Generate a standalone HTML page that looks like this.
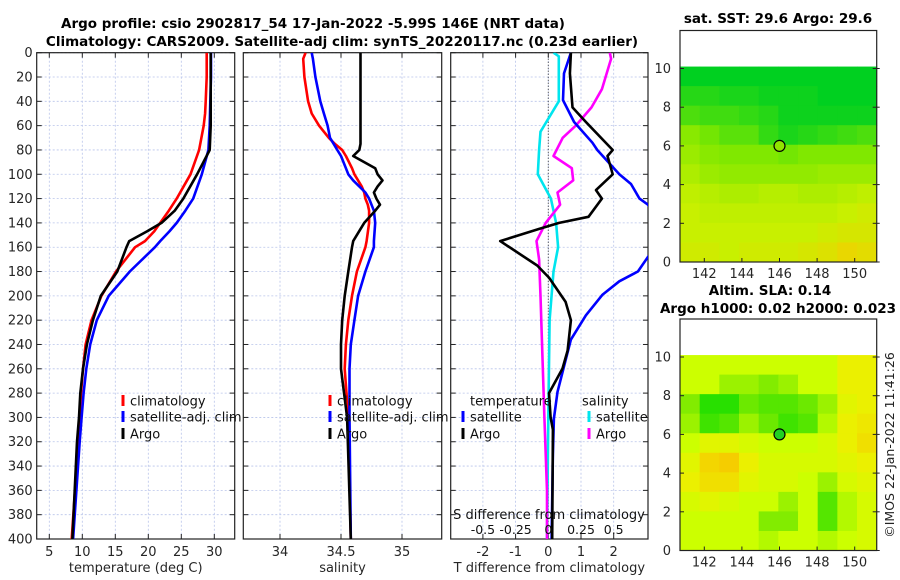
<!DOCTYPE html>
<html><head><meta charset="utf-8">
<style>
html,body{margin:0;padding:0;background:#fff;}
svg{display:block;font-family:"DejaVu Sans","Liberation Sans",sans-serif;}
</style></head>
<body>
<svg id="fig" width="900" height="580" viewBox="0 0 900 580" xmlns="http://www.w3.org/2000/svg">
<defs>
<clipPath id="c1"><rect x="36.7" y="52.7" width="198" height="486.3"/></clipPath>
<clipPath id="c2"><rect x="243.3" y="52.7" width="198.4" height="486.3"/></clipPath>
<clipPath id="c3"><rect x="450.7" y="52.7" width="197.3" height="486.3"/></clipPath>
</defs>
<g id="titles">
<text x="313" y="28" text-anchor="middle" font-size="13.5" font-weight="bold">Argo profile: csio 2902817_54 17-Jan-2022 -5.99S 146E (NRT data)</text>
<text x="342" y="46" text-anchor="middle" font-size="13.5" font-weight="bold">Climatology: CARS2009. Satellite-adj clim: synTS_20220117.nc (0.23d earlier)</text>
<text x="778" y="23" text-anchor="middle" font-size="13.5" font-weight="bold">sat. SST: 29.6 Argo: 29.6</text>
<text x="770" y="295" text-anchor="middle" font-size="13.5" font-weight="bold">Altim. SLA: 0.14</text>
<text x="778" y="313" text-anchor="middle" font-size="13.5" font-weight="bold">Argo h1000: 0.02 h2000: 0.023</text>
<text transform="translate(894,445) rotate(-90)" text-anchor="middle" font-size="12.5" fill="#222">©IMOS 22-Jan-2022 11:41:26</text>
</g>
<g id="plots"></g>
</svg>
<script>
const tempDepths = [0,20,40,50,60,80,100,120,130,140,147,155,160,180,200,220,240,260,280,300,320,400];
const tempClim   = [28.85,28.85,28.7,28.6,28.4,27.7,26.4,24.3,23.1,21.8,20.9,19.5,18.0,15.1,12.9,11.4,10.5,10.1,9.8,9.6,9.4,8.4];
const tempSat    = [29.5,29.5,29.4,29.35,29.3,29.1,28.1,26.8,25.6,24.3,23.2,21.8,21.0,17.2,14.0,12.2,11.2,10.6,10.2,9.9,9.6,8.6];
const tempArgo   = [29.45,29.45,29.45,29.45,29.45,29.3,27.4,25.3,24.0,22.0,19.8,17.1,16.7,15.3,12.8,11.6,10.7,10.1,9.7,9.5,9.2,8.5];

const salDepths = [0,5,20,40,50,60,70,75,80,85,95,100,105,110,115,120,125,130,140,155,160,180,200,220,240,260,300,400];
const salClim   = [34.21,34.19,34.2,34.23,34.26,34.32,34.40,34.45,34.51,34.54,34.59,34.61,34.64,34.67,34.69,34.70,34.72,34.73,34.73,34.71,34.70,34.63,34.59,34.56,34.54,34.53,34.56,34.58];
const salSat    = [34.26,34.27,34.29,34.33,34.36,34.39,34.41,34.44,34.47,34.50,34.54,34.56,34.60,34.65,34.70,34.73,34.75,34.77,34.78,34.77,34.77,34.70,34.64,34.61,34.58,34.57,34.57,34.58];
const salArgo   = [34.66,34.66,34.66,34.66,34.66,34.66,34.66,34.66,34.65,34.60,34.78,34.80,34.84,34.80,34.77,34.79,34.82,34.78,34.69,34.60,34.59,34.56,34.53,34.51,34.50,34.50,34.55,34.58];

const dTDepths = [0,17,39,57,74,80,100,108,120,125,140,150,160,168,180,188,199,216,236,258,279,301,330,400];
const dTSat    = [0.69,0.48,0.45,0.79,1.35,1.5,2.17,2.53,2.79,3.05,3.4,3.5,3.3,3.05,2.74,2.17,1.66,1.15,0.69,0.48,0.28,0.17,0.14,0.1];
const dTArgoDepths = [0,17,45,57,80,85,100,113,120,135,140,145,155,175,185,205,220,245,260,280,300,310,400];
const dTArgo   = [0.69,0.66,0.74,1.15,1.97,1.81,1.97,1.46,1.64,1.23,0.33,-0.29,-1.47,-0.34,0.02,0.53,0.69,0.59,0.43,0.02,0.07,0.14,0.12];
const dSDepths = [0,3,40,65,80,100,120,140,160,180,220,300,400];
const dSSat    = [0.04,0.08,0.08,-0.06,-0.07,-0.08,0.02,0.06,0.075,0.04,0.01,0.0,-0.01];
const dSArgoDepths = [0,5,30,45,60,70,85,95,105,115,125,140,155,170,200,300,360,400];
const dSArgo   = [0.47,0.48,0.41,0.33,0.21,0.11,0.04,0.18,0.19,0.07,0.09,-0.02,-0.09,-0.07,-0.06,-0.03,-0.01,-0.01];

const depthTicks = [0,20,40,60,80,100,120,140,160,180,200,220,240,260,280,300,320,340,360,380,400];
const tempTicks = [5,10,15,20,25,30];
const salTicks = [34,34.5,35];
const salTickLabels = ["34","34.5","35"];
const dTTicks = [-2,-1,0,1,2];
const dSTicks = [-0.5,-0.25,0,0.25,0.5];
const dSTickLabels = ["-0.5","-0.25","0","0.25","0.5"];

const mapLatTicks = [0,2,4,6,8,10];
const mapLonTicks = [142,144,146,148,150];
const sstGrid = [
 [0.0,0.0,0.0,0.0,0.0,0.0,0.0,0.0,0.0,0.0],
 [0.3,0.3,0.2,0.2,0.1,0.1,0.1,0.0,0.0,0.0],
 [0.6,0.5,0.5,0.4,0.3,0.1,0.1,0.1,0.1,0.1],
 [1.1,0.9,0.7,0.7,0.4,0.2,0.3,0.4,0.5,0.6],
 [1.3,1.1,1.0,1.0,1.0,0.9,1.0,1.0,1.0,1.0],
 [1.5,1.3,1.2,1.2,1.2,1.2,1.2,1.3,1.3,1.3],
 [1.7,1.6,1.5,1.5,1.6,1.6,1.5,1.5,1.6,1.7],
 [1.8,1.7,1.7,1.7,1.7,1.7,1.7,1.7,1.8,1.9],
 [1.8,1.8,1.8,1.8,1.8,1.8,1.8,1.9,2.0,2.0],
 [1.9,1.9,1.8,1.9,1.9,1.9,2.0,2.1,2.3,2.2]];
const slaGrid = [
 [1,1,1,1,1,1,1,1,1.3,1.3],
 [1,1,0.8,0.8,0.7,0.8,1,1,1.3,1.3],
 [0.7,0.3,0.3,0.6,0.5,0.5,0.6,0.8,1.2,1.3],
 [0.8,0.4,0.5,0.8,0.6,0.4,0.5,0.9,1.3,1.4],
 [1,1.2,1.2,1.1,1,1,1,1.1,1.3,1.5],
 [1.2,1.6,1.7,1.3,1.1,1.1,1.1,1.1,1.2,1.3],
 [1.3,1.5,1.5,1.2,1.1,1.1,1,0.8,1.1,1.2],
 [1.1,1.2,1.1,1,1,0.8,1,0.5,0.9,1.1],
 [1,1,1,1,0.7,0.7,1,0.5,0.9,1.1],
 [1,1,1,1,0.9,1,1,0.9,1,1.1]];
const argoPos = [146, 6];

const NS = "http://www.w3.org/2000/svg";
const root = document.getElementById('plots');
function mk(tag, attrs, parent){ const e=document.createElementNS(NS,tag); for(const k in attrs) e.setAttribute(k,attrs[k]); (parent||root).appendChild(e); return e; }

const Y0=52.7, Y1=539;
const yD = d => Y0 + d*(Y1-Y0)/400;
const xT = t => 49.3 + (t-5)*6.6;
const xS = s => 280 + (s-34)*122;
const xDT = v => 548.3 + v*32.7;
const xDS = v => xDT(v*4);

function panel(name, x0, x1, clip, xTicks, xLabels, xfun, yLabels, xlabel){
  const g = mk('g',{});
  
  
  depthTicks.forEach(d=>{
    const l=mk('line',{x1:x0,x2:x1,y1:yD(d),y2:yD(d),stroke:'#b8c4ea','stroke-width':0.8,'stroke-dasharray':'2,2'},g);
    
    
    const t1=mk('line',{x1:x0,x2:x0+5,y1:yD(d),y2:yD(d),stroke:'#222','stroke-width':1},g);
    
    
    const t2=mk('line',{x1:x1-5,x2:x1,y1:yD(d),y2:yD(d),stroke:'#222','stroke-width':1},g);
    
    
    if(yLabels){
      const tx=mk('text',{x:x0-4,y:yD(d)+4.5,'text-anchor':'end','font-size':13,fill:'#262626'},g);
      tx.textContent=d;
      
      
    }
  });
  xTicks.forEach((v,i)=>{
    const X=xfun(v);
    const l=mk('line',{x1:X,x2:X,y1:Y0,y2:Y1,stroke:'#b8c4ea','stroke-width':0.8,'stroke-dasharray':'2,2'},g);
    
    
    const t=mk('line',{x1:X,x2:X,y1:Y1-5,y2:Y1,stroke:'#222','stroke-width':1},g);
    
    
    const t2=mk('line',{x1:X,x2:X,y1:Y0,y2:Y0+5,stroke:'#222','stroke-width':1},g);
    
    
    const tx=mk('text',{x:X,y:556,'text-anchor':'middle','font-size':13,fill:'#262626'},g);
    tx.textContent=xLabels[i];
    
    
  });
  const lab=mk('text',{x:(x0+x1)/2,y:572,'text-anchor':'middle','font-size':13,fill:'#262626'},g);
  lab.textContent=xlabel;
  
  
  const box=mk('rect',{x:x0,y:Y0,width:x1-x0,height:Y1-Y0,fill:'none',stroke:'#222','stroke-width':1.2},g);
  
  
  return g;
}
function line(g, depths, vals, xf, color, clip, name){
  const pts = depths.map((d,i)=>xf(vals[i]).toFixed(1)+','+yD(d).toFixed(1)).join(' ');
  const p=mk('polyline',{points:pts,fill:'none',stroke:color,'stroke-width':2.6,'stroke-linejoin':'round','clip-path':'url(#'+clip+')'},g);
  
  
}
function legendEntry(g, x, y, color, label){
  const e=mk('g',{},g);
  
  
  if(color) mk('line',{x1:x,x2:x,y1:y-6,y2:y+5,stroke:color,'stroke-width':3},e);
  const t=mk('text',{x:x+(color?7:0),y:y+4.5,'font-size':13,fill:'#111'},e);
  t.textContent=label;
}

const p1 = panel('temperature-panel',36.7,234.7,'c1',tempTicks,tempTicks.map(String),xT,true,'temperature (deg C)');
line(p1,tempDepths,tempClim,xT,'#ff0000','c1','temp-climatology-line');
line(p1,tempDepths,tempSat,xT,'#0000ff','c1','temp-satellite-line');
line(p1,tempDepths,tempArgo,xT,'#000000','c1','temp-argo-line');
legendEntry(p1,123,401,'#ff0000','climatology');
legendEntry(p1,123,417,'#0000ff','satellite-adj. clim');
legendEntry(p1,123,434,'#000000','Argo');

const p2 = panel('salinity-panel',243.3,441.7,'c2',salTicks,salTickLabels,xS,false,'salinity');
line(p2,salDepths,salClim,xS,'#ff0000','c2','sal-climatology-line');
line(p2,salDepths,salSat,xS,'#0000ff','c2','sal-satellite-line');
line(p2,salDepths,salArgo,xS,'#000000','c2','sal-argo-line');
legendEntry(p2,330,401,'#ff0000','climatology');
legendEntry(p2,330,417,'#0000ff','satellite-adj. clim');
legendEntry(p2,330,434,'#000000','Argo');

const p3 = panel('difference-panel',450.7,648,'c3',dTTicks,dTTicks.map(String),xDT,false,'T difference from climatology');
const zl=mk('line',{x1:xDT(0),x2:xDT(0),y1:Y0,y2:Y1,stroke:'#333','stroke-width':1,'stroke-dasharray':'1,2'},p3);


line(p3,dSDepths,dSSat,xDS,'#00e5ee','c3','s-diff-satellite-line');
line(p3,dSArgoDepths,dSArgo,xDS,'#ff00ff','c3','s-diff-argo-line');
line(p3,dTDepths,dTSat,xDT,'#0000ff','c3','t-diff-satellite-line');
line(p3,dTArgoDepths,dTArgo,xDT,'#000000','c3','t-diff-argo-line');
legendEntry(p3,470,401,null,'temperature');
legendEntry(p3,463,417,'#0000ff','satellite');
legendEntry(p3,463,434,'#000000','Argo');
legendEntry(p3,582,401,null,'salinity');
legendEntry(p3,589,417,'#00e5ee','satellite');
legendEntry(p3,589,434,'#ff00ff','Argo');
const st=mk('text',{x:549,y:519,'text-anchor':'middle','font-size':13,fill:'#111'},p3);
st.textContent='S difference from climatology';


dSTicks.forEach((v,i)=>{
  const t=mk('text',{x:xDS(v),y:534,'text-anchor':'middle','font-size':12.5,fill:'#111'},p3);
  t.textContent=dSTickLabels[i];
  
  
});

function colSST(v){
  const stops=[[0,[0,208,32]],[1,[128,232,0]],[1.8,[200,240,0]],[2.4,[240,210,0]]];
  return interp(stops,v);
}
function colSLA(v){
  const stops=[[0.3,[40,224,0]],[0.7,[130,236,0]],[1,[204,255,0]],[1.3,[235,240,0]],[1.7,[245,205,0]]];
  return interp(stops,v);
}
function interp(stops,v){
  if(v<=stops[0][0]) return 'rgb('+stops[0][1].join(',')+')';
  for(let i=1;i<stops.length;i++){
    if(v<=stops[i][0]){
      const a=stops[i-1],b=stops[i],f=(v-a[0])/(b[0]-a[0]);
      return 'rgb('+a[1].map((c,k)=>Math.round(c+(b[1][k]-c)*f)).join(',')+')';
    }
  }
  return 'rgb('+stops[stops.length-1][1].join(',')+')';
}
function mapPanel(name, top, grid, colf, dotFill){
  const X0=680, X1=876.7, Ybot=top+231.5;
  const lonX = lo => 704.3 + (lo-142)*18.8;
  const latY = la => Ybot - la*19.35;
  const g=mk('g',{});
  
  
  const rows=grid.length, cols=grid[0].length;
  const cw=(X1-X0)/cols, yTop=latY(10.1), ch=(Ybot-yTop)/rows;
  grid.forEach((row,r)=>row.forEach((v,c)=>{
    const cell=mk('rect',{x:X0+c*cw,y:yTop+r*ch,width:cw+0.5,height:ch+0.5,fill:colf(v)},g);
    
    
  }));
  mapLatTicks.forEach(la=>{
    const t=mk('text',{x:X0-9,y:latY(la)+4.5,'text-anchor':'end','font-size':13,fill:'#262626'},g);
    t.textContent=la;
    
    
    mk('line',{x1:X0,x2:X0+4,y1:latY(la),y2:latY(la),stroke:'#222'},g);
    mk('line',{x1:X1-4,x2:X1+3,y1:latY(la),y2:latY(la),stroke:'#222'},g);
  });
  mapLonTicks.forEach(lo=>{
    const t=mk('text',{x:lonX(lo),y:Ybot+16,'text-anchor':'middle','font-size':13,fill:'#262626'},g);
    t.textContent=lo;
    
    
    mk('line',{x1:lonX(lo),x2:lonX(lo),y1:Ybot-4,y2:Ybot,stroke:'#222'},g);
  });
  const m=mk('circle',{cx:lonX(argoPos[0]),cy:latY(argoPos[1]),r:5.5,fill:dotFill,stroke:'#000','stroke-width':1.2},g);
  
  
  const b=mk('rect',{x:X0,y:top,width:X1-X0,height:Ybot-top,fill:'none',stroke:'#222','stroke-width':1.2},g);
  
  
}
mapPanel('sst-map',30.5,sstGrid,colSST,'#90e400');
mapPanel('sla-map',319,slaGrid,colSLA,'#22d022');
</script>
</body></html>
